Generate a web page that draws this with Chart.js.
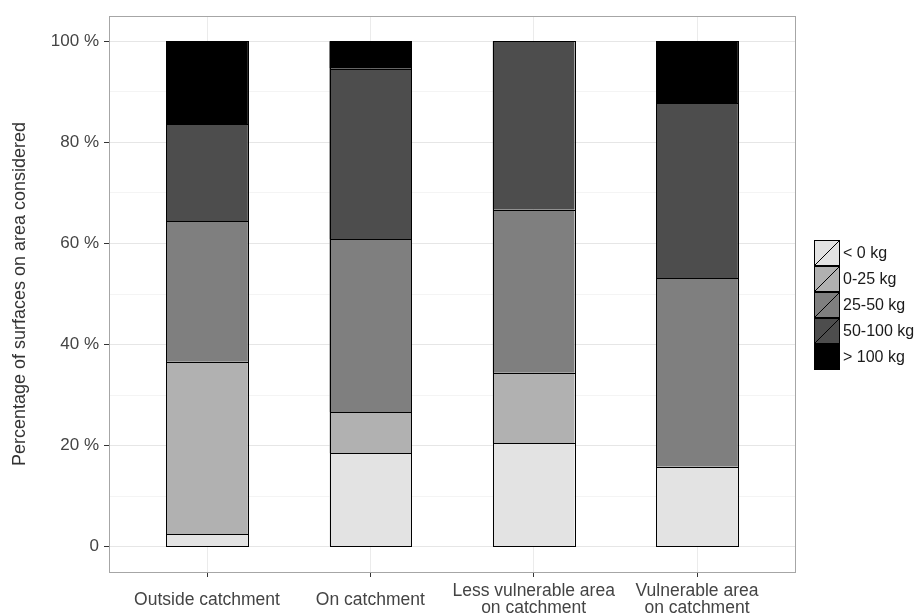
<!DOCTYPE html>
<html>
<head>
<meta charset="utf-8">
<script src="https://cdn.jsdelivr.net/npm/chart.js@4"></script>
<style>
  body { margin: 0; background: #fff; }
</style>
</head>
<body>
<canvas id="chart" width="916" height="615"></canvas>
<script>
// categories on x (each one split in lines)
const categories = [
  ['Outside catchment'],
  ['On catchment'],
  ['Less vulnerable area', 'on catchment'],
  ['Vulnerable area', 'on catchment']
];
const classes = ['< 0 kg', '0-25 kg', '25-50 kg', '50-100 kg', '> 100 kg'];

// share of surface (%) per class, one value per category
const below0 = [2.5, 18.5, 20.5, 15.8];
const kg0to25 = [34.1, 8.1, 13.9, 0];
const kg25to50 = [27.8, 34.3, 32.3, 37.3];
const kg50to100 = [19.2, 33.7, 33.3, 34.6];
const above100 = [16.4, 5.4, 0, 12.3];

const yTicks = [0, 10, 20, 30, 40, 50, 60, 70, 80, 90, 100];
const fills = ['#e3e3e3', '#b1b1b1', '#7f7f7f', '#4d4d4d', '#000000'];

const series = [below0, kg0to25, kg25to50, kg50to100, above100];

const datasets = series.map((vals, i) => ({
  label: classes[i],
  data: vals.map((v, j) => ({ x: j + 1, y: v })),
  backgroundColor: fills[i],
  borderWidth: 0,
  categoryPercentage: 1,
  barPercentage: 0.5
}));

const FONT = '"Liberation Sans", Arial, sans-serif';

// panel border (like ggplot theme_bw)
const panelBorder = {
  id: 'panelBorder',
  beforeDatasetsDraw(chart) {
    const { ctx, chartArea: a } = chart;
    ctx.save();
    ctx.strokeStyle = '#a6a6a6';
    ctx.lineWidth = 1;
    ctx.strokeRect(Math.round(a.left) + 0.5, Math.round(a.top) + 0.5,
      Math.round(a.right - a.left), Math.round(a.bottom - a.top));
    ctx.restore();
  }
};

// crisp black outline round each stacked piece
const barOutline = {
  id: 'barOutline',
  afterDatasetsDraw(chart) {
    const ctx = chart.ctx;
    ctx.save();
    ctx.strokeStyle = '#000';
    ctx.lineWidth = 1;
    chart.data.datasets.forEach((ds, i) => {
      chart.getDatasetMeta(i).data.forEach((el) => {
        const { x, y, base, width } = el.getProps(['x', 'y', 'base', 'width'], true);
        const top = Math.round(Math.min(y, base));
        const bot = Math.round(Math.max(y, base));
        if (bot - top < 1) return;
        const l = Math.round(x - width / 2);
        const r = Math.round(x + width / 2);
        ctx.strokeRect(l + 0.5, top + 0.5, r - l, bot - top);
      });
    });
    ctx.restore();
  }
};

// legend with the little slash keys
const keyLegend = {
  id: 'keyLegend',
  afterDraw(chart) {
    const ctx = chart.ctx;
    const k = 26, x0 = 814, y0 = 239.5;
    ctx.save();
    ctx.font = '16px ' + FONT;
    ctx.textBaseline = 'middle';
    classes.forEach((lab, i) => {
      const y = Math.round(y0 + i * k);
      ctx.fillStyle = fills[i];
      ctx.fillRect(x0, y, k, k);
      ctx.strokeStyle = '#000';
      ctx.lineWidth = 1;
      ctx.strokeRect(x0 + 0.5, y + 0.5, k - 1, k - 1);
      if (i < 4) {
        ctx.beginPath();
        ctx.moveTo(x0 + 1, y + k - 1);
        ctx.lineTo(x0 + k - 1, y + 1);
        ctx.stroke();
      }
      ctx.fillStyle = '#1a1a1a';
      ctx.fillText(lab, x0 + k + 3, y + k / 2 + 1);
    });
    ctx.restore();
  }
};

new Chart(document.getElementById('chart'), {
  type: 'bar',
  data: { datasets: datasets },
  options: {
    responsive: false,
    devicePixelRatio: 1,
    animation: false,
    layout: { padding: { top: 16, right: 121, left: 0, bottom: 0 } },
    plugins: {
      legend: { display: false },
      tooltip: { enabled: false }
    },
    scales: {
      x: {
        type: 'linear',
        stacked: true,
        offset: false,
        min: 0.4,
        max: 4.6,
        afterBuildTicks: (axis) => { axis.ticks = categories.map((c, i) => ({ value: i + 1 })); },
        afterFit: (scale) => { scale.height = 43; },
        border: { display: false },
        grid: { offset: false, color: '#ebebeb', tickColor: '#333', tickLength: 5 },
        ticks: {
          callback: (v) => categories[v - 1],
          color: '#444',
          font: { family: FONT, size: 17.5, lineHeight: 1.0 },
          padding: 14,
          crossAlign: 'center',
          maxRotation: 0,
          autoSkip: false
        }
      },
      y: {
        stacked: true,
        min: -5,
        max: 105,
        afterBuildTicks: (axis) => { axis.ticks = yTicks.map(v => ({ value: v })); },
        afterFit: (scale) => { scale.width = 109; },
        border: { display: false },
        grid: {
          color: (c) => (c.tick && c.tick.value % 20 === 0) ? '#e6e6e6' : '#f4f4f4',
          tickColor: (c) => (c.tick && c.tick.value % 20 === 0) ? '#333' : 'rgba(0,0,0,0)',
          tickLength: 5
        },
        ticks: {
          callback: (v) => v % 20 !== 0 ? '' : (v === 0 ? '0' : v + ' %'),
          color: '#444',
          font: { family: FONT, size: 17 },
          padding: 5
        },
        title: {
          display: true,
          text: 'Percentage of surfaces on area considered',
          color: '#333',
          font: { family: FONT, size: 18 },
          padding: { top: 9, bottom: 0 }
        }
      }
    }
  },
  plugins: [panelBorder, barOutline, keyLegend]
});
</script>
</body>
</html>
